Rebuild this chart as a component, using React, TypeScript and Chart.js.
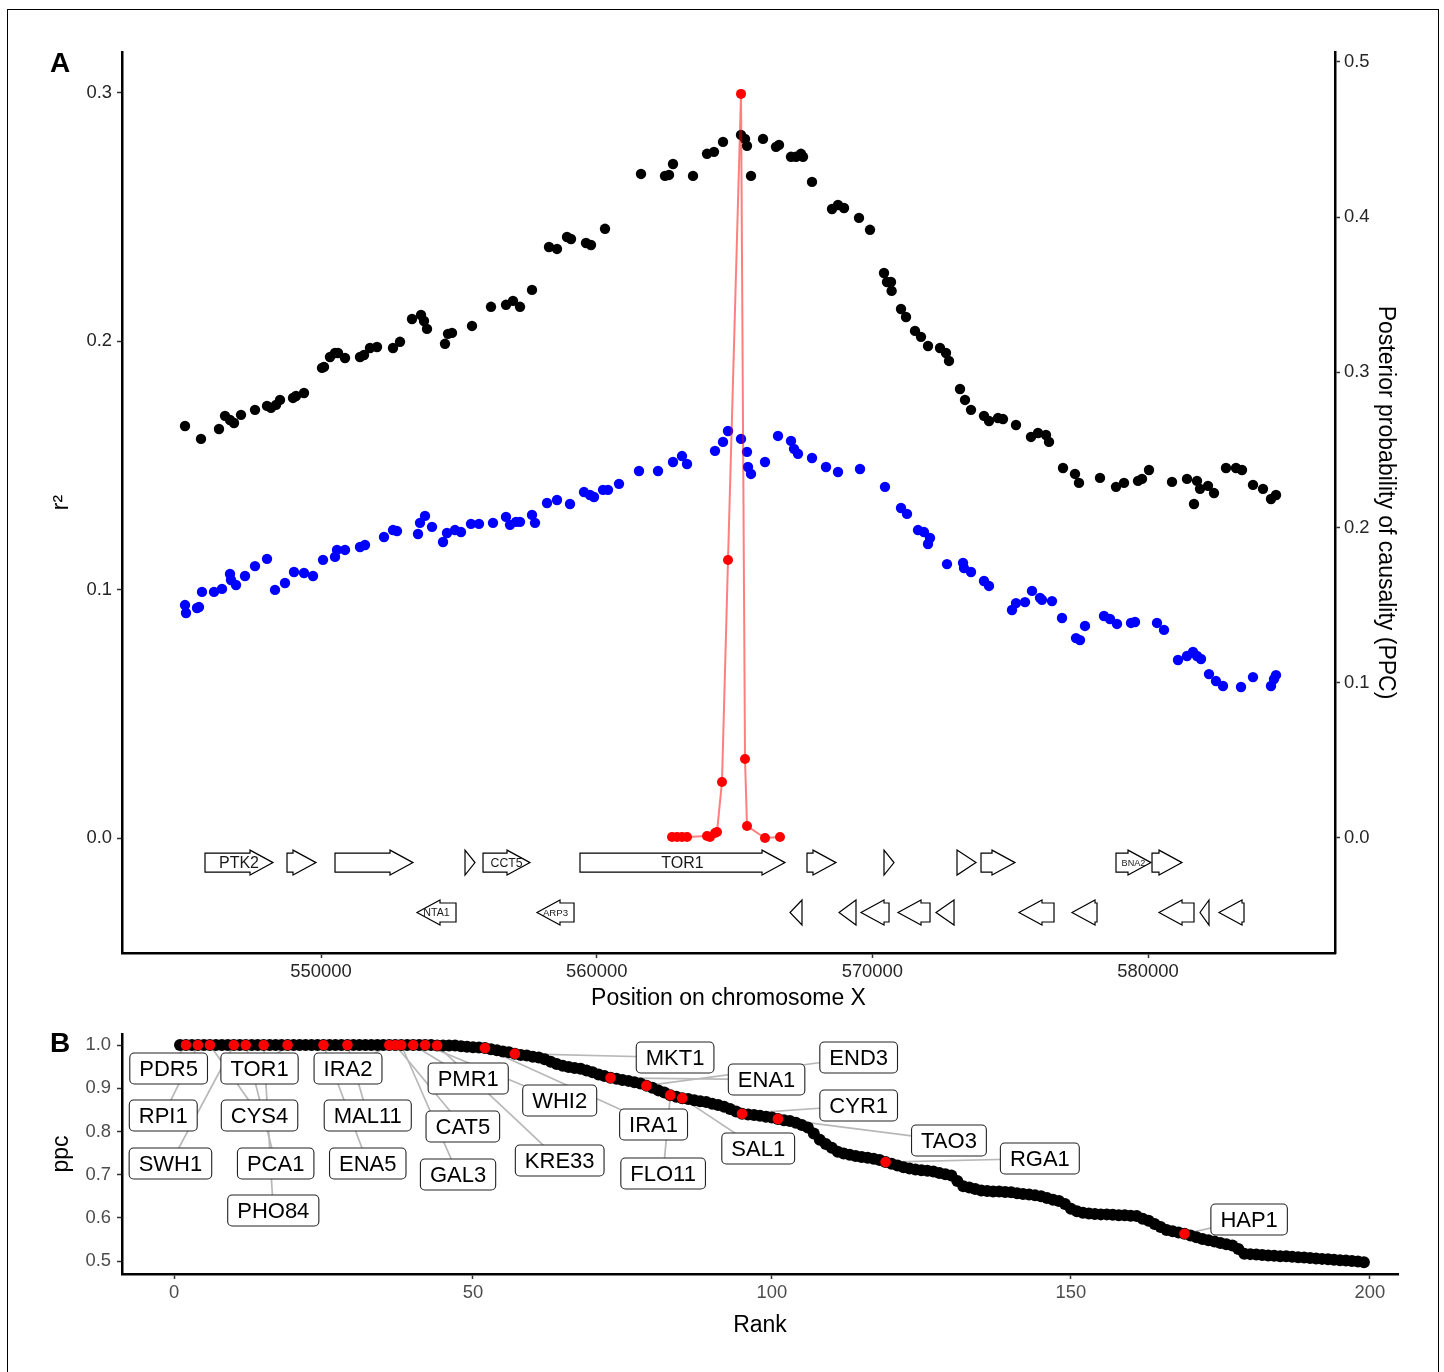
import React, { useEffect, useRef } from "react";
import { Chart, registerables } from "chart.js";

Chart.register(...registerables);

const FONT = '"Liberation Sans", Arial, Helvetica, sans-serif';
Chart.defaults.font.family = FONT;

// ---------------- Panel A data ----------------
const xTicksA = [550000, 560000, 570000, 580000];
const r2Ticks = [0, 0.1, 0.2, 0.3];
const ppcTicks = [0, 0.1, 0.2, 0.3, 0.4, 0.5];

const blackPos = [
  545067, 545647, 546300, 546518, 546699, 546844, 547098, 547606, 548041, 548186,
  548368, 548513, 548984, 549093, 549383, 550036, 550109, 550326, 550508, 550617,
  550871, 551415, 551560, 551777, 552031, 552612, 552866, 553301, 553628, 553736,
  553845, 554498, 554607, 554752, 555478, 556167, 556711, 556965, 557219, 557654,
  558271, 558561, 558924, 559069, 559613, 559794, 560302, 561608, 562479, 562624,
  562769, 563494, 564002, 564256, 564583, 565236, 565381, 565453, 565598, 566034,
  566505, 566614, 567049, 567231, 567412, 567485, 567811, 568537, 568754, 568972,
  569516, 569915, 570423, 570532, 570677, 570700, 571040, 571221, 571547, 571765,
  572019, 572454, 572672, 572781, 573180, 573361, 573579, 574050, 574232, 574558,
  574740, 575211, 575755, 576009, 576299, 576408, 576916, 577351, 577496, 578258,
  578839, 579129, 579637, 579782, 580036, 580870, 581414, 581668, 581777, 581886,
  582176, 582394, 582829, 583192, 583409, 583808, 584171, 584461, 584643,
];
const blackR2 = [
  0.1659, 0.1607, 0.1647, 0.17, 0.1683, 0.1671, 0.1704, 0.1724, 0.174, 0.1732,
  0.1744, 0.1764, 0.1772, 0.178, 0.1792, 0.1893, 0.1897, 0.1937, 0.1953, 0.1953,
  0.1933, 0.1937, 0.1945, 0.1973, 0.1977, 0.1973, 0.1998, 0.209, 0.2106, 0.2082,
  0.205, 0.199, 0.203, 0.2034, 0.2062, 0.2139, 0.2147, 0.2163, 0.2139, 0.2207,
  0.238, 0.2372, 0.242, 0.2412, 0.2396, 0.2388, 0.2453, 0.2674, 0.2666, 0.267,
  0.2714, 0.2666, 0.2755, 0.2763, 0.2803, 0.2831, 0.2815, 0.2787, 0.2666, 0.2815,
  0.2783, 0.2791, 0.2743, 0.2743, 0.2755, 0.2743, 0.2642, 0.2533, 0.2549, 0.2537,
  0.2497, 0.2449, 0.2275, 0.2239, 0.2239, 0.2203, 0.213, 0.2098, 0.2042, 0.2018,
  0.1981, 0.1973, 0.1953, 0.1921, 0.1808, 0.1764, 0.1724, 0.17, 0.1679, 0.1691,
  0.1687, 0.1663, 0.1615, 0.1631, 0.1623, 0.1595, 0.149, 0.1466, 0.143, 0.145,
  0.1414, 0.143, 0.1438, 0.1446, 0.1482, 0.1434, 0.1446, 0.1345, 0.1438, 0.1406,
  0.1418, 0.1389, 0.149, 0.149, 0.1482, 0.1422, 0.1406, 0.1365, 0.1381,
];

const bluePos = [
  545067, 545103, 545502, 545574, 545683, 546119, 546409, 546699, 546735, 546917,
  547243, 547606, 548041, 548331, 548694, 549021, 549383, 549710, 550073, 550508,
  550580, 550871, 551415, 551596, 552285, 552612, 552757, 553519, 553591, 553773,
  554027, 554426, 554571, 554861, 555079, 555441, 555731, 556239, 556711, 556856,
  557074, 557219, 557654, 557763, 558198, 558561, 559032, 559540, 559758, 559903,
  560230, 560411, 560810, 561535, 562225, 562769, 563095, 563277, 564292, 564583,
  564764, 565236, 565453, 565489, 565598, 566106, 566578, 567049, 567158, 567303,
  567811, 568319, 568754, 569552, 570459, 571040, 571257, 571656, 571874, 572091,
  572019, 572708, 573289, 573325, 573579, 574050, 574232, 575066, 575211, 575538,
  575792, 576082, 576154, 576517, 576880, 577388, 577533, 577714, 578403, 578621,
  578875, 579383, 579528, 580326, 580580, 581088, 581414, 581632, 581777, 581922,
  582212, 582466, 582720, 583373, 583808, 584461, 584570, 584643,
];
const blueR2 = [
  0.0938, 0.0906, 0.0926, 0.093, 0.0991, 0.0991, 0.1003, 0.1063, 0.1039, 0.1019,
  0.1055, 0.1095, 0.1124, 0.0999, 0.1027, 0.1071, 0.1067, 0.1055, 0.112, 0.1132,
  0.116, 0.116, 0.1172, 0.118, 0.1212, 0.124, 0.1236, 0.1224, 0.1269, 0.1297,
  0.1253, 0.1192, 0.1228, 0.124, 0.1232, 0.1265, 0.1265, 0.1269, 0.1293, 0.1261,
  0.1273, 0.1273, 0.1301, 0.1269, 0.1349, 0.1361, 0.1345, 0.1393, 0.1381, 0.1373,
  0.1402, 0.1402, 0.1426, 0.1478, 0.1478, 0.1514, 0.1538, 0.1506, 0.1559, 0.1595,
  0.1639, 0.1607, 0.1555, 0.1494, 0.1466, 0.1514, 0.1619, 0.1599, 0.1567, 0.1547,
  0.153, 0.1494, 0.1474, 0.1486, 0.1414, 0.1329, 0.1305, 0.124, 0.1232, 0.1208,
  0.1184, 0.1103, 0.1108, 0.1087, 0.1071, 0.1035, 0.1015, 0.0918, 0.0946, 0.095,
  0.0995, 0.0967, 0.0959, 0.0954, 0.0886, 0.0805, 0.0797, 0.0854, 0.0894, 0.0882,
  0.0862, 0.0866, 0.087, 0.0866, 0.0838, 0.0717, 0.0733, 0.0749, 0.0733, 0.0721,
  0.066, 0.0632, 0.0612, 0.0608, 0.0648, 0.0612, 0.064, 0.0656,
];

const ppcPos = [
  562732, 562914, 563095, 563277, 564002, 564111, 564292, 564365, 564546, 564764,
  565236, 565381, 565453, 566106, 566650,
];
const ppcVal = [
  0.0006, 0.0006, 0.0006, 0.0006, 0.0013, 0.0006, 0.0032, 0.0039, 0.0361, 0.1791,
  0.4794, 0.0509, 0.0077, 0.0, 0.0006,
];

// genes: [start, end, name]
const genesFwd: [number, number, string][] = [
  [545792, 548259, "PTK2"],
  [548767, 549819, ""],
  [550508, 553337, ""],
  [555224, 555586, ""],
  [555877, 557582, "CCT5"],
  [559395, 566832, "TOR1"],
  [567630, 568682, ""],
  [570423, 570786, ""],
  [573071, 573760, ""],
  [573942, 575175, ""],
  [578839, 580109, "BNA2"],
  [580145, 581233, ""],
];
const genesRev: [number, number, string][] = [
  [553482, 554897, "NTA1"],
  [557835, 559178, "ARP3"],
  [567013, 567448, ""],
  [568791, 569407, ""],
  [569589, 570605, ""],
  [570931, 572092, ""],
  [572309, 572963, ""],
  [575320, 576590, ""],
  [577243, 578150, ""],
  [580399, 581668, ""],
  [581886, 582212, ""],
  [582575, 583482, ""],
];
const FWD_ROW = -0.0099;
const REV_ROW = -0.03;

// ---------------- Panel B data ----------------
const rankPpc = [
  1, 1, 1, 1, 1, 1, 1, 1, 1, 1,
  1, 1, 1, 1, 1, 1, 1, 1, 1, 1,
  1, 1, 1, 1, 1, 1, 1, 1, 1, 1,
  1, 1, 1, 1, 1, 1, 1, 1, 1, 1,
  1, 1, 1, 0.999, 0.999, 0.999, 0.999, 0.997, 0.996, 0.995,
  0.994, 0.993, 0.99, 0.988, 0.985, 0.983, 0.98, 0.977, 0.976, 0.973,
  0.971, 0.967, 0.961, 0.956, 0.952, 0.949, 0.947, 0.945, 0.941, 0.937,
  0.932, 0.928, 0.924, 0.922, 0.919, 0.917, 0.914, 0.911, 0.906, 0.901,
  0.895, 0.89, 0.884, 0.88, 0.877, 0.875, 0.872, 0.87, 0.868, 0.864,
  0.861, 0.857, 0.852, 0.846, 0.841, 0.839, 0.838, 0.836, 0.834, 0.832,
  0.829, 0.826, 0.824, 0.82, 0.815, 0.809, 0.795, 0.781, 0.771, 0.762,
  0.753, 0.749, 0.746, 0.743, 0.741, 0.739, 0.737, 0.734, 0.729, 0.725,
  0.721, 0.717, 0.714, 0.712, 0.71, 0.709, 0.707, 0.704, 0.701, 0.698,
  0.685, 0.673, 0.67, 0.667, 0.663, 0.662, 0.661, 0.661, 0.66, 0.659,
  0.657, 0.655, 0.654, 0.652, 0.65, 0.646, 0.642, 0.639, 0.632, 0.621,
  0.615, 0.612, 0.61, 0.609, 0.608, 0.608, 0.607, 0.606, 0.606, 0.605,
  0.604, 0.598, 0.593, 0.586, 0.579, 0.572, 0.569, 0.566, 0.563, 0.559,
  0.555, 0.551, 0.548, 0.545, 0.542, 0.539, 0.536, 0.528, 0.517, 0.516,
  0.515, 0.514, 0.513, 0.512, 0.511, 0.511, 0.51, 0.509, 0.508, 0.507,
  0.506, 0.505, 0.504, 0.503, 0.502, 0.501, 0.5, 0.499, 0.497,
];
const redRanks = [2, 4, 6, 10, 12, 15, 19, 25, 29, 36, 37, 38, 40, 42, 44, 52, 57, 73, 79, 83, 85, 95, 101, 119, 169];
const redNames = [
  "PDR5", "RPI1", "CYS4", "SWH1", "PCA1", "PHO84", "TOR1", "ENA5", "MAL11", "IRA2",
  "CAT5", "GAL3", "PMR1", "WHI2", "KRE33", "IRA1", "MKT1", "ENA1", "END3", "FLO11",
  "SAL1", "CYR1", "TAO3", "RGA1", "HAP1",
];
const labelRank = [
  -0.9, -1.8, 14.3, -0.6, 17.0, 16.6, 14.3, 32.4, 32.4, 29.1,
  48.3, 47.5, 49.2, 64.5, 64.5, 80.2, 83.8, 99.1, 114.5, 81.8,
  97.7, 114.5, 129.6, 144.8, 179.8,
];
const labelPpc = [
  0.9456, 0.8368, 0.8368, 0.7257, 0.7257, 0.6169, 0.9456, 0.7257, 0.8368, 0.9456,
  0.8113, 0.7002, 0.9225, 0.8715, 0.7326, 0.816, 0.9711, 0.9201, 0.9711, 0.7025,
  0.7604, 0.86, 0.7789, 0.7373, 0.5961,
];
const xTicksB = [0, 50, 100, 150, 200];
const yTicksB = [0.5, 0.6, 0.7, 0.8, 0.9, 1.0];

// ---------------- plugins ----------------
const genePlugin = {
  id: "genes",
  afterDatasetsDraw(chart: any) {
    const { ctx } = chart;
    const xs = chart.scales.x;
    const ys = chart.scales.y;
    const drawGene = (g: [number, number, string], dir: number, row: number) => {
      const x1 = xs.getPixelForValue(g[0]);
      const x2 = xs.getPixelForValue(g[1]);
      const yc = ys.getPixelForValue(row);
      const w = x2 - x1;
      const hl = Math.min(23, w);
      const bh = 9.5;
      const hh = 12.5;
      ctx.save();
      ctx.beginPath();
      if (dir > 0) {
        const hs = x2 - hl;
        if (w > hl + 0.5) {
          ctx.moveTo(x1, yc - bh);
          ctx.lineTo(hs, yc - bh);
          ctx.lineTo(hs, yc - hh);
          ctx.lineTo(x2, yc);
          ctx.lineTo(hs, yc + hh);
          ctx.lineTo(hs, yc + bh);
          ctx.lineTo(x1, yc + bh);
        } else {
          ctx.moveTo(x1, yc - hh);
          ctx.lineTo(x2, yc);
          ctx.lineTo(x1, yc + hh);
        }
      } else {
        const hs = x1 + hl;
        if (w > hl + 0.5) {
          ctx.moveTo(x2, yc - bh);
          ctx.lineTo(hs, yc - bh);
          ctx.lineTo(hs, yc - hh);
          ctx.lineTo(x1, yc);
          ctx.lineTo(hs, yc + hh);
          ctx.lineTo(hs, yc + bh);
          ctx.lineTo(x2, yc + bh);
        } else {
          ctx.moveTo(x2, yc - hh);
          ctx.lineTo(x1, yc);
          ctx.lineTo(x2, yc + hh);
        }
      }
      ctx.closePath();
      ctx.fillStyle = "#ffffff";
      ctx.fill();
      ctx.lineWidth = 1.2;
      ctx.strokeStyle = "#000000";
      ctx.lineJoin = "miter";
      ctx.stroke();
      if (g[2]) {
        ctx.font = `100px ${FONT}`;
        const m = ctx.measureText(g[2]).width / 100;
        const size = Math.min(16, (w * 0.68) / m);
        ctx.font = `${size}px ${FONT}`;
        ctx.fillStyle = "#1a1a1a";
        ctx.textAlign = "center";
        ctx.textBaseline = "middle";
        ctx.fillText(g[2], (x1 + x2) / 2, yc + 1);
      }
      ctx.restore();
    };
    genesFwd.forEach((g) => drawGene(g, 1, FWD_ROW));
    genesRev.forEach((g) => drawGene(g, -1, REV_ROW));
  },
};

function roundRectPath(ctx: CanvasRenderingContext2D, x: number, y: number, w: number, h: number, r: number) {
  ctx.beginPath();
  ctx.moveTo(x + r, y);
  ctx.lineTo(x + w - r, y);
  ctx.arcTo(x + w, y, x + w, y + r, r);
  ctx.lineTo(x + w, y + h - r);
  ctx.arcTo(x + w, y + h, x + w - r, y + h, r);
  ctx.lineTo(x + r, y + h);
  ctx.arcTo(x, y + h, x, y + h - r, r);
  ctx.lineTo(x, y + r);
  ctx.arcTo(x, y, x + r, y, r);
  ctx.closePath();
}

const labelPlugin = {
  id: "repelLabels",
  beforeDatasetsDraw(chart: any) {
    const { ctx } = chart;
    const xs = chart.scales.x;
    const ys = chart.scales.y;
    ctx.save();
    ctx.strokeStyle = "#b8b8b8";
    ctx.lineWidth = 1.7;
    redRanks.forEach((r, i) => {
      const px = xs.getPixelForValue(r);
      const py = ys.getPixelForValue(rankPpc[r - 1]);
      const lx = xs.getPixelForValue(labelRank[i]);
      const ly = ys.getPixelForValue(labelPpc[i]);
      ctx.beginPath();
      ctx.moveTo(px, py);
      ctx.lineTo(lx, ly);
      ctx.stroke();
    });
    ctx.restore();
  },
  afterDatasetsDraw(chart: any) {
    const { ctx } = chart;
    const xs = chart.scales.x;
    const ys = chart.scales.y;
    ctx.save();
    ctx.font = `22px ${FONT}`;
    redNames.forEach((name, i) => {
      const lx = xs.getPixelForValue(labelRank[i]);
      const ly = ys.getPixelForValue(labelPpc[i]);
      const tw = ctx.measureText(name).width;
      const bw = tw + 19;
      const bh = 31;
      roundRectPath(ctx, lx - bw / 2, ly - bh / 2, bw, bh, 4.5);
      ctx.fillStyle = "#ffffff";
      ctx.fill();
      ctx.strokeStyle = "#222222";
      ctx.lineWidth = 1.1;
      ctx.stroke();
      ctx.fillStyle = "#000000";
      ctx.textAlign = "center";
      ctx.textBaseline = "middle";
      ctx.fillText(name, lx, ly + 1);
    });
    ctx.restore();
  },
};

// ---------------- helpers ----------------
const gridOpts = {
  display: true,
  drawOnChartArea: false,
  drawTicks: true,
  tickLength: 5,
  tickColor: "#333333",
  tickWidth: 1.5,
};
const borderOpts = { display: true, color: "#000000", width: 2.5 };

export default function App() {
  const refA = useRef<HTMLCanvasElement>(null);
  const refB = useRef<HTMLCanvasElement>(null);

  useEffect(() => {
    const chartA = new Chart(refA.current as HTMLCanvasElement, {
      type: "scatter",
      data: {
        datasets: [
          {
            label: "PPC",
            data: ppcPos.map((x, i) => ({ x, y: ppcVal[i] })),
            yAxisID: "y2",
            showLine: true,
            borderColor: "rgba(255,0,0,0.5)",
            borderWidth: 2,
            pointBackgroundColor: "#ff0000",
            pointBorderWidth: 0,
            pointRadius: 5,
            order: 0,
          } as any,
          {
            label: "blue",
            data: bluePos.map((x, i) => ({ x, y: blueR2[i] })),
            yAxisID: "y",
            pointBackgroundColor: "#0000ff",
            pointBorderWidth: 0,
            pointRadius: 5.2,
            order: 1,
          },
          {
            label: "black",
            data: blackPos.map((x, i) => ({ x, y: blackR2[i] })),
            yAxisID: "y",
            pointBackgroundColor: "#000000",
            pointBorderWidth: 0,
            pointRadius: 5.2,
            order: 2,
          },
        ],
      },
      options: {
        animation: false,
        responsive: false,
        layout: { padding: { top: 52, left: 0, right: 0, bottom: 0 } },
        plugins: { legend: { display: false }, tooltip: { enabled: false } },
        scales: {
          x: {
            type: "linear",
            position: "bottom",
            min: 542781,
            max: 586783,
            afterBuildTicks: (s: any) => {
              s.ticks = xTicksA.map((value) => ({ value }));
            },
            afterFit: (s: any) => {
              s.height = 57;
            },
            grid: gridOpts,
            border: borderOpts,
            ticks: {
              font: { size: 18.4, family: FONT },
              color: "#262626",
              padding: 2.5,
              maxRotation: 0,
              callback: (v: any) => String(v),
            },
            title: {
              display: true,
              text: "Position on chromosome X",
              font: { size: 23, family: FONT },
              color: "#000000",
              padding: { top: 0, bottom: -2 },
            },
          },
          y: {
            type: "linear",
            position: "left",
            min: -0.0463,
            max: 0.3165,
            afterBuildTicks: (s: any) => {
              s.ticks = r2Ticks.map((value) => ({ value }));
            },
            afterFit: (s: any) => {
              s.width = 122;
            },
            grid: gridOpts,
            border: borderOpts,
            ticks: {
              font: { size: 18.4, family: FONT },
              color: "#262626",
              padding: 5,
              callback: (v: any) => Number(v).toFixed(1),
            },
            title: {
              display: true,
              text: "r²",
              font: { size: 23, family: FONT },
              color: "#000000",
              padding: { top: 48.2, bottom: 0 },
            },
          },
          y2: {
            type: "linear",
            position: "right",
            min: -0.0741,
            max: 0.5064,
            afterBuildTicks: (s: any) => {
              s.ticks = ppcTicks.map((value) => ({ value }));
            },
            afterFit: (s: any) => {
              s.width = 109;
            },
            grid: gridOpts,
            border: borderOpts,
            ticks: {
              font: { size: 18.4, family: FONT },
              color: "#262626",
              padding: 4,
              callback: (v: any) => Number(v).toFixed(1),
            },
            title: {
              display: true,
              text: "Posterior probability of causality (PPC)",
              font: { size: 23, family: FONT },
              color: "#000000",
              padding: { top: 45.2, bottom: 0 },
            },
          },
        },
      },
      plugins: [genePlugin],
    } as any);

    const chartB = new Chart(refB.current as HTMLCanvasElement, {
      type: "scatter",
      data: {
        datasets: [
          {
            label: "highlight",
            data: redRanks.map((r) => ({ x: r, y: rankPpc[r - 1] })),
            pointBackgroundColor: "#ff0000",
            pointBorderWidth: 0,
            pointRadius: 5.3,
            order: 0,
          },
          {
            label: "all",
            data: rankPpc.map((y, i) => ({ x: i + 1, y })),
            pointBackgroundColor: "#000000",
            pointBorderWidth: 0,
            pointRadius: 6,
            order: 1,
          },
        ],
      },
      options: {
        animation: false,
        responsive: false,
        layout: { padding: { top: 24, left: 0, right: 46, bottom: 0 } },
        plugins: { legend: { display: false }, tooltip: { enabled: false } },
        scales: {
          x: {
            type: "linear",
            position: "bottom",
            min: -8.7,
            max: 204.7,
            afterBuildTicks: (s: any) => {
              s.ticks = xTicksB.map((value) => ({ value }));
            },
            afterFit: (s: any) => {
              s.height = 98;
            },
            grid: gridOpts,
            border: borderOpts,
            ticks: {
              font: { size: 18.4, family: FONT },
              color: "#4d4d4d",
              padding: 3,
              maxRotation: 0,
              callback: (v: any) => String(v),
            },
            title: {
              display: true,
              text: "Rank",
              font: { size: 23, family: FONT },
              color: "#000000",
              padding: { top: 0, bottom: 32.2 },
            },
          },
          y: {
            type: "linear",
            position: "left",
            min: 0.47,
            max: 1.0255,
            afterBuildTicks: (s: any) => {
              s.ticks = yTicksB.map((value) => ({ value }));
            },
            afterFit: (s: any) => {
              s.width = 122;
            },
            grid: gridOpts,
            border: borderOpts,
            ticks: {
              font: { size: 18.4, family: FONT },
              color: "#4d4d4d",
              padding: 6,
              callback: (v: any) => Number(v).toFixed(1),
            },
            title: {
              display: true,
              text: "ppc",
              font: { size: 23, family: FONT },
              color: "#000000",
              padding: { top: 48.2, bottom: 0 },
            },
          },
        },
      },
      plugins: [labelPlugin],
    } as any);

    return () => {
      chartA.destroy();
      chartB.destroy();
    };
  }, []);

  return (
    <div
      style={{
        position: "fixed",
        left: 0,
        top: 0,
        width: 1444,
        height: 1372,
        overflow: "hidden",
        background: "#ffffff",
        fontFamily: FONT,
      }}
    >
      <div
        style={{
          position: "absolute",
          left: 7,
          top: 9,
          width: 1432,
          height: 1400,
          border: "1px solid #000",
          boxSizing: "border-box",
        }}
      />
      <canvas
        ref={refA}
        width={1444}
        height={1010}
        style={{ position: "absolute", left: 0, top: 0, width: 1444, height: 1010 }}
      />
      <canvas
        ref={refB}
        width={1444}
        height={362}
        style={{ position: "absolute", left: 0, top: 1010, width: 1444, height: 362 }}
      />
      <div
        style={{
          position: "absolute",
          left: 50,
          top: 49.3,
          fontSize: 28,
          fontWeight: "bold",
          lineHeight: "28px",
          color: "#000",
        }}
      >
        A
      </div>
      <div
        style={{
          position: "absolute",
          left: 50,
          top: 1029.3,
          fontSize: 28,
          fontWeight: "bold",
          lineHeight: "28px",
          color: "#000",
        }}
      >
        B
      </div>
    </div>
  );
}
